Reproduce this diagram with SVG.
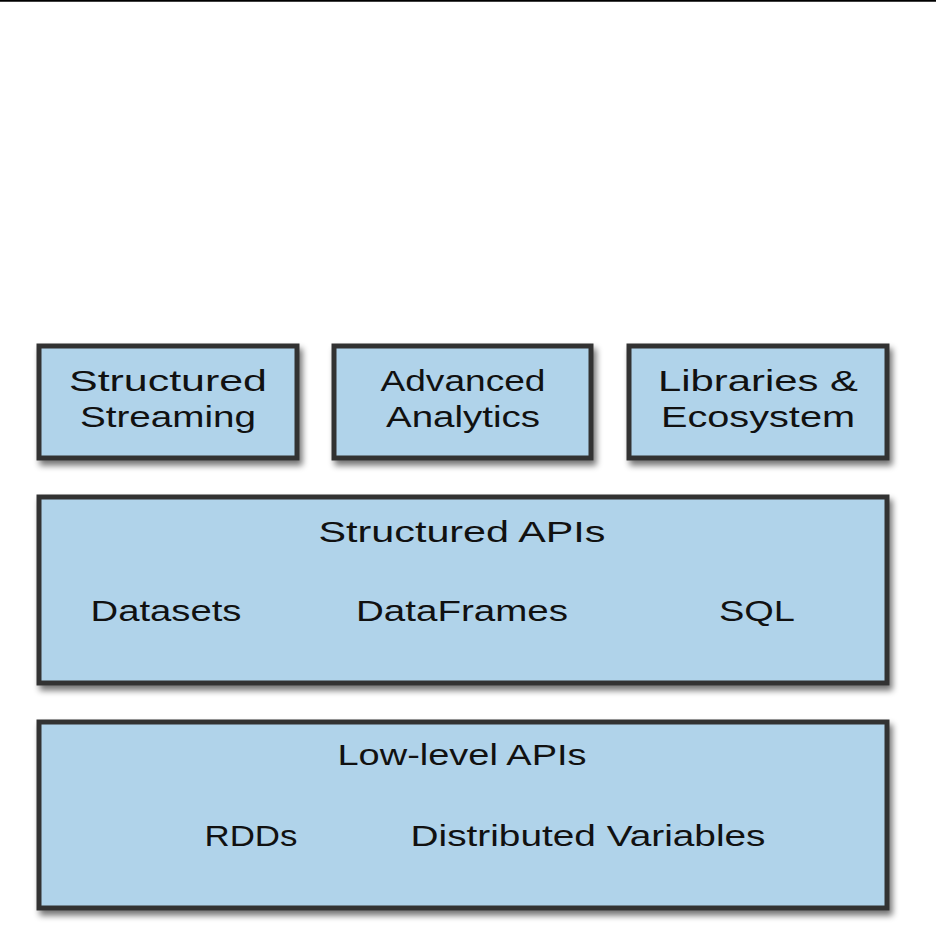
<svg xmlns="http://www.w3.org/2000/svg" width="936" height="935" viewBox="0 0 936 935">
<defs>
<filter id="sh" x="-10%" y="-10%" width="125%" height="130%">
<feGaussianBlur in="SourceAlpha" stdDeviation="3"/>
<feOffset dx="3" dy="5" result="b"/>
<feComponentTransfer><feFuncA type="linear" slope="0.55"/></feComponentTransfer>
<feMerge><feMergeNode/><feMergeNode in="SourceGraphic"/></feMerge>
</filter>
</defs>
<style>
.box{fill:#b0d3ea;stroke:#333333;stroke-width:5;filter:url(#sh)}
.t{font-family:"Liberation Sans","DejaVu Sans",sans-serif;font-size:30px;fill:#111111;text-anchor:middle}
</style>
<rect width="936" height="935" fill="#ffffff"/>
<line x1="0" y1="0.8" x2="936" y2="0.8" stroke="#000000" stroke-width="1.8"/>
<g id="structured-streaming">
<rect class="box" x="39" y="346" width="258" height="112"/>
<text class="t" x="168" y="391" textLength="198" lengthAdjust="spacingAndGlyphs">Structured</text>
<text class="t" x="168" y="427" textLength="176" lengthAdjust="spacingAndGlyphs">Streaming</text>
</g>
<g id="advanced-analytics">
<rect class="box" x="334" y="346" width="257" height="112"/>
<text class="t" x="463" y="391" textLength="165" lengthAdjust="spacingAndGlyphs">Advanced</text>
<text class="t" x="463" y="427" textLength="154" lengthAdjust="spacingAndGlyphs">Analytics</text>
</g>
<g id="libraries-ecosystem">
<rect class="box" x="629" y="346" width="258" height="112"/>
<text class="t" x="758" y="391" textLength="200" lengthAdjust="spacingAndGlyphs">Libraries &amp;</text>
<text class="t" x="758" y="427" textLength="194" lengthAdjust="spacingAndGlyphs">Ecosystem</text>
</g>
<g id="structured-apis">
<rect class="box" x="39" y="497" width="848" height="186"/>
<text class="t" x="462" y="542" textLength="287" lengthAdjust="spacingAndGlyphs">Structured APIs</text>
<text class="t" x="166" y="621" textLength="151" lengthAdjust="spacingAndGlyphs">Datasets</text>
<text class="t" x="462" y="621" textLength="212" lengthAdjust="spacingAndGlyphs">DataFrames</text>
<text class="t" x="757" y="621" textLength="76" lengthAdjust="spacingAndGlyphs">SQL</text>
</g>
<g id="low-level-apis">
<rect class="box" x="39" y="722" width="848" height="186"/>
<text class="t" x="462" y="765" textLength="249" lengthAdjust="spacingAndGlyphs">Low-level APIs</text>
<text class="t" x="251" y="846" textLength="93" lengthAdjust="spacingAndGlyphs">RDDs</text>
<text class="t" x="588" y="846" textLength="355" lengthAdjust="spacingAndGlyphs">Distributed Variables</text>
</g>
<g id="connectors"/>
</svg>
